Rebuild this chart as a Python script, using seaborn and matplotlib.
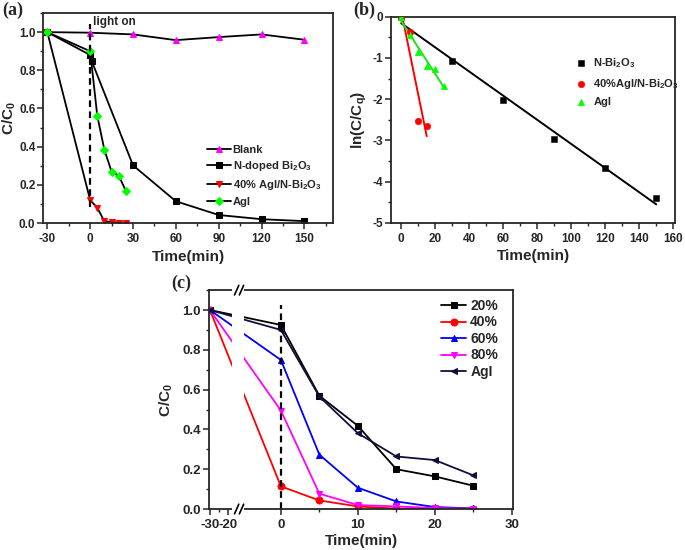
import numpy as np
import matplotlib
matplotlib.use('Agg')
import matplotlib.pyplot as plt
import seaborn as sns
from matplotlib.patches import Rectangle
from matplotlib.ticker import MultipleLocator

# (a) C/C0 vs time, with dark adsorption from -30 min
time_blank = [-30, 0, 30, 60, 90, 120, 150]
c_blank = [1.0, 0.997, 0.988, 0.958, 0.974, 0.988, 0.96]
time_ndoped = [-30, 0, 1, 30, 60, 90, 120, 150]
c_ndoped = [1.0, 0.88, 0.85, 0.302, 0.114, 0.042, 0.02, 0.01]
time_short = [-30, 0, 5, 10, 15, 20, 25]
c_40 = [1.0, 0.12, 0.08, 0.008, 0.006, 0.002, 0.002]
c_agi = [1.0, 0.90, 0.56, 0.382, 0.269, 0.248, 0.168]

# (b) ln(C/Cq) kinetics
kt_n = [0, 30, 60, 90, 120, 150]
ln_n = [0.0, -1.07, -2.02, -2.97, -3.68, -4.40]
kt_40 = [0, 5, 10, 15]
ln_40 = [0.0, -0.36, -2.52, -2.65]
kt_agi = [0, 5, 10, 15, 20, 25]
ln_agi = [0.0, -0.44, -0.85, -1.20, -1.28, -1.67]

# (c) different AgI loadings
time_c = [-30, 0, 5, 10, 15, 20, 25]
c_20 = [1.0, 0.925, 0.569, 0.418, 0.20, 0.164, 0.117]
c_40c = [1.0, 0.114, 0.043, 0.013, 0.002, 0.001, 0.001]
c_60 = [1.0, 0.749, 0.273, 0.107, 0.038, 0.01, 0.003]
c_80 = [1.0, 0.495, 0.077, 0.02, 0.013, 0.005, 0.002]
c_agi_c = [1.0, 0.90, 0.565, 0.381, 0.264, 0.246, 0.169]

sns.set_style('ticks')
plt.rcParams['font.family'] = ['Liberation Sans', 'DejaVu Sans']
plt.rcParams['font.weight'] = 'bold'
plt.rcParams['axes.labelweight'] = 'bold'
plt.rcParams['axes.unicode_minus'] = False
plt.rcParams['mathtext.fontset'] = 'custom'
plt.rcParams['mathtext.rm'] = 'Liberation Sans:bold'
plt.rcParams['mathtext.it'] = 'Liberation Sans:bold'
plt.rcParams['mathtext.bf'] = 'Liberation Sans:bold'
plt.rcParams['mathtext.default'] = 'rm'
plt.rcParams['axes.linewidth'] = 1.3
plt.rcParams['xtick.major.width'] = 1.1
plt.rcParams['ytick.major.width'] = 1.1
plt.rcParams['xtick.minor.width'] = 1.0
plt.rcParams['ytick.minor.width'] = 1.0
plt.rcParams['xtick.major.size'] = 4
plt.rcParams['ytick.major.size'] = 4
plt.rcParams['xtick.minor.size'] = 2.5
plt.rcParams['ytick.minor.size'] = 2.5
plt.rcParams['ytick.major.pad'] = 1.5

fig = plt.figure(figsize=(6.85, 5.5), dpi=100)
ax_a = fig.add_axes([0.0628, 0.5945, 0.4234, 0.3818])
ax_b = fig.add_axes([0.5708, 0.5951, 0.4146, 0.3745])
ax_c = fig.add_axes([0.3051, 0.0745, 0.4438, 0.398])

# ---------------- (a)
series_a = [
    ('Blank', time_blank, c_blank, '^', '#ff00ff', 5),
    ('N-doped Bi$_2$O$_3$', time_ndoped, c_ndoped, 's', 'black', 4.5),
    ('40% AgI/N-Bi$_2$O$_3$', time_short, c_40, 'v', '#ff0000', 5),
    ('AgI', time_short, c_agi, 'D', '#00ff00', 4),
]
for name, t, c, m, col, ms in series_a:
    sns.lineplot(x=t, y=c, ax=ax_a, color='black', lw=1.3, marker=m, markersize=ms,
                 markerfacecolor=col, markeredgecolor=col, label=name)
ax_a.plot([0, 0], [0.085, 1.04], color='black', ls='--', lw=1.6, dashes=(3, 2))
ax_a.text(2.0, 1.052, 'light on', fontsize=8.5, fontweight='bold', va='center')
ax_a.set_xlim(-33, 170)
ax_a.set_ylim(0, 1.1)
ax_a.set_xticks([-30, 0, 30, 60, 90, 120, 150])
ax_a.xaxis.set_minor_locator(MultipleLocator(15))
ax_a.set_yticks([0, 0.2, 0.4, 0.6, 0.8, 1.0])
ax_a.yaxis.set_minor_locator(MultipleLocator(0.1))
ax_a.tick_params(labelsize=8.5)
ax_a.set_xlabel('Time(min)', fontsize=11, labelpad=3)
ax_a.set_ylabel('C/C$_0$', fontsize=11)
ax_a.yaxis.set_label_coords(-0.086, 0.5)
ax_a.legend(loc='upper left', bbox_to_anchor=(0.55, 0.395), frameon=False, fontsize=8,
            handlelength=2.2, handletextpad=0.1, labelspacing=0.42, borderaxespad=0)

# ---------------- (b)
series_b = [
    ('N-Bi$_2$O$_3$', kt_n, ln_n, 's', 'black'),
    ('40%AgI/N-Bi$_2$O$_3$', kt_40, ln_40, 'o', '#ff0000'),
    ('AgI', kt_agi, ln_agi, '^', '#00ff00'),
]
for name, t, v, m, col in series_b:
    sns.regplot(x=np.array(t, float), y=np.array(v, float), ax=ax_b, scatter=False, ci=None,
                truncate=True, line_kws=dict(color=col if col != '#00ff00' else '#22dd22', lw=1.4))
for name, t, v, m, col in series_b:
    sns.scatterplot(x=t, y=v, ax=ax_b, marker=m, color=col, edgecolor=col, s=22, label=name,
                    zorder=3)
ax_b.set_xlim(-6, 161)
ax_b.set_ylim(-5, 0)
ax_b.set_xticks(range(0, 161, 20))
ax_b.xaxis.set_minor_locator(MultipleLocator(10))
ax_b.set_yticks([-5, -4, -3, -2, -1, 0])
ax_b.yaxis.set_minor_locator(MultipleLocator(0.5))
ax_b.tick_params(labelsize=8.5)
ax_b.set_xlabel('Time(min)', fontsize=11, labelpad=3)
ax_b.set_ylabel('ln(C/C$_q$)', fontsize=11, labelpad=3)
ax_b.legend(loc='upper left', bbox_to_anchor=(0.63, 0.83), frameon=False, fontsize=8,
            handlelength=1.2, handletextpad=0.5, labelspacing=0.6, borderaxespad=0)

# ---------------- (c) broken time axis: -30..-20 compressed, gap, then linear
brk_x = [-200, -20, -5, 200]
brk_p = [-6.84 - 180 * 0.238, -6.84, -5.0, 200]


def fwd(x):
    return np.interp(x, brk_x, brk_p)


def inv(p):
    return np.interp(p, brk_p, brk_x)


ax_c.set_xscale('function', functions=(fwd, inv))
series_c = [
    ('20%', c_20, 's', 'black'),
    ('40%', c_40c, 'o', '#ff0000'),
    ('60%', c_60, '^', '#0000ff'),
    ('80%', c_80, 'v', '#ff00ff'),
    ('AgI', c_agi_c, '<', '#10103a'),
]
for name, c, m, col in series_c:
    sns.lineplot(x=time_c, y=c, ax=ax_c, color=col, lw=1.3, marker=m, markersize=5,
                 markerfacecolor=col, markeredgecolor=col, label=name)
ax_c.plot([0, 0], [0, 1.025], color='black', ls='--', lw=1.6, dashes=(3, 2))
ax_c.set_xlim(-30.5, 30.15)
ax_c.set_ylim(0, 1.1)
ax_c.set_xticks([-30, -20, 0, 10, 20, 30])
ax_c.set_xticks([-25, 5, 15, 25], minor=True)
ax_c.set_xticklabels(['-30', '-20', '0', '10', '20', '30'])
ax_c.set_yticks([0, 0.2, 0.4, 0.6, 0.8, 1.0])
ax_c.yaxis.set_minor_locator(MultipleLocator(0.1))
ax_c.tick_params(labelsize=9.5)
ax_c.tick_params(axis='y', pad=2)
ax_c.set_xlabel('Time(min)', fontsize=11, labelpad=2)
ax_c.set_ylabel('C/C$_0$', fontsize=11, labelpad=5)
ax_c.legend(loc='upper left', bbox_to_anchor=(0.745, 0.985), frameon=False, fontsize=10,
            handlelength=1.8, handletextpad=0.3, labelspacing=0.18, borderaxespad=0)

# white gap with break marks
ax_c.add_patch(Rectangle((0.076, -0.03), 0.038, 1.06, transform=ax_c.transAxes,
                         facecolor='white', edgecolor='none', zorder=5, clip_on=False))
for yb in (0, 1):
    for x0 in (0.084, 0.100):
        ax_c.plot([x0, x0 + 0.014], [yb - 0.022, yb + 0.022], color='black', lw=1.2,
                  transform=ax_c.transAxes, clip_on=False, zorder=6)

# panel labels
fig.text(0.004, 0.997, '(a)', fontsize=13, fontweight='bold', family='Liberation Serif', va='top')
fig.text(0.516, 0.997, '(b)', fontsize=13, fontweight='bold', family='Liberation Serif', va='top')
fig.text(0.250, 0.500, '(c)', fontsize=13, fontweight='bold', family='Liberation Serif', va='top')

fig.savefig('out.png', dpi=100)
